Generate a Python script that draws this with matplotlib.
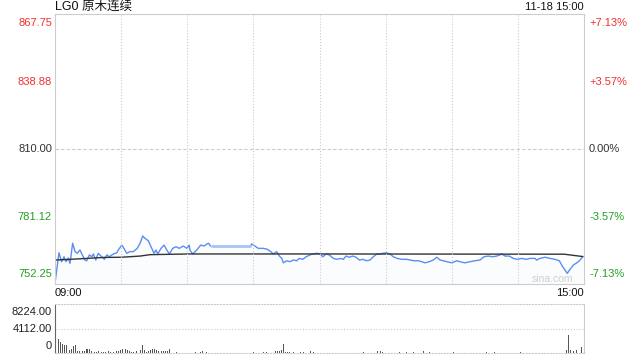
import matplotlib
matplotlib.use("Agg")
import matplotlib.pyplot as plt

plt.rcParams['font.family'] = ['Liberation Sans', 'Noto Sans CJK SC', 'DejaVu Sans']

# minutes since 09:00 (240 minute axis) and price
price_t = [0, 1.8, 3.0, 4.1, 5.0, 6.0, 6.8, 8.0, 9.1, 10.1, 11.3, 12.4, 13.5, 14.4, 15.6,
           16.7, 17.4, 18.5, 19.6, 21.2, 22.4, 23.5, 24.6, 26.5, 28.0, 28.7, 30.3, 31.3,
           32.5, 34.0, 35.5, 37.3, 38.6, 39.8, 40.8, 42.3, 43.9, 44.9, 45.8, 46.6, 48.1,
           49.5, 50.7, 51.9, 53.4, 54.9, 56.4, 58.2, 59.8, 60.9, 61.2, 62.5, 64.3, 66.1,
           67.6, 69.6, 70.6, 88.8, 89.2, 90.7, 92.2, 94.5, 96.3, 97.9, 99.0, 100.6, 101.8,
           102.9, 103.6, 105.1, 106.6, 108.1, 109.7, 110.8, 112.4, 113.9, 115.7, 117.2,
           118.7, 120.2, 121.5, 123.0, 124.4, 126.3, 127.8, 129.6, 130.8, 132.0, 133.5,
           135.1, 136.6, 138.1, 139.6, 141.4, 142.9, 144.4, 146.0, 147.4, 148.9, 150.2,
           152.0, 153.5, 155.3, 157.3, 159.6, 161.1, 162.9, 164.8, 166.4, 167.9, 169.8,
           171.6, 173.2, 174.7, 176.2, 177.7, 180.0, 182.3, 183.7, 186.0, 188.3, 190.5,
           192.8, 194.6, 196.6, 198.6, 200.4, 201.9, 202.7, 204.2, 206.1, 207.9, 209.7,
           211.7, 213.7, 215.5, 217.8, 218.5, 220.0, 222.3, 224.6, 226.8, 228.8, 230.3,
           231.4, 232.4, 233.7, 235.2, 236.7, 237.9, 239.4]
price = [752.6, 765.6, 761.8, 763.9, 761.8, 763.4, 761.1, 769.7, 766.1, 765.4, 766.8, 764.7,
         762.5, 762.2, 764.7, 763.9, 765.1, 762.5, 765.4, 763.9, 762.8, 764.7, 763.9, 765.1,
         765.6, 766.8, 768.9, 767.5, 765.4, 766.1, 766.1, 767.5, 769.7, 772.8, 771.8, 770.8,
         767.5, 765.4, 766.8, 765.1, 767.5, 768.9, 766.8, 765.1, 767.5, 768.2, 767.5, 768.5,
         767.5, 768.9, 766.8, 765.1, 766.8, 768.9, 768.5, 769.7, 768.5, 768.5, 769.4, 768.5,
         767.5, 767.5, 767.1, 766.1, 765.1, 766.1, 764.2, 763.2, 761.3, 762.2, 761.8, 762.5,
         762.2, 763.2, 762.8, 763.9, 764.7, 765.1, 765.4, 765.1, 763.9, 765.1, 764.7, 763.2,
         762.8, 763.2, 762.8, 764.2, 763.7, 764.2, 763.7, 762.5, 762.8, 762.2, 762.5, 763.9,
         765.1, 765.1, 765.4, 765.6, 765.1, 763.9, 763.2, 762.8, 762.8, 762.5, 762.2, 762.2,
         761.8, 761.3, 761.8, 762.5, 763.7, 762.5, 762.2, 761.8, 761.3, 762.2, 761.8, 761.3,
         761.8, 762.2, 762.5, 763.9, 764.2, 763.9, 764.2, 764.7, 765.1, 764.2, 764.2, 763.2,
         762.8, 763.2, 762.8, 763.2, 763.2, 762.5, 763.2, 763.7, 763.2, 762.8, 762.2, 759.7,
         758.2, 756.8, 758.6, 760.4, 761.3, 762.2, 763.9]

avg_t = [0, 6.8, 14.4, 21.9, 30.3, 38.6, 43.1, 60.9, 120.0, 231.0, 239.4]
avg = [762.5, 762.8, 763.2, 763.6, 763.7, 764.2, 764.8, 765.1, 765.1, 765.0, 764.0]

vol_t = [0.45, 1.5, 2.3, 3.2, 4.1, 5.0, 6.8, 7.6, 8.3, 9.1, 10.1, 11.3, 12.3, 13.2, 14.1,
         14.8, 15.6, 16.6, 17.7, 18.9, 19.8, 21.0, 21.9, 23.1, 24.2, 25.3, 26.5, 28.0, 28.9,
         29.8, 30.7, 31.8, 32.8, 33.7, 34.8, 35.8, 37.1, 38.9, 39.8, 40.7, 41.6, 42.5, 43.4,
         44.3, 45.2, 46.1, 47.0, 48.1, 49.1, 50.0, 51.1, 51.9, 52.9, 54.0, 55.2, 56.7, 63.7,
         65.8, 67.0, 68.8, 74.9, 80.9, 87.0, 90.0, 94.5, 96.0, 100.0, 100.9, 101.8, 102.7,
         103.6, 104.5, 105.4, 106.6, 108.1, 111.2, 112.7, 115.7, 117.2, 124.8, 129.3, 135.3,
         139.9, 146.2, 147.5, 148.4, 152.0, 156.5, 159.6, 162.6, 167.4, 170.1, 174.7, 180.7,
         186.8, 195.9, 199.6, 204.9, 211.0, 217.0, 223.1, 226.1, 232.1, 232.9, 233.9, 235.2,
         236.7, 239.0]
vol = [8224, 2350, 1900, 1510, 1340, 1340, 500, 620, 1170, 1290, 390, 340, 390, 340, 620,
       670, 620, 340, 220, 220, 340, 110, 220, 170, 280, 220, 110, 340, 390, 500, 620, 670,
       500, 280, 170, 220, 390, 500, 1340, 500, 170, 340, 450, 620, 620, 450, 280, 340, 280,
       280, 280, 670, 60, 60, 110, 60, 170, 170, 280, 110, 60, 60, 60, 110, 170, 170, 340,
       390, 280, 500, 1510, 220, 170, 170, 110, 170, 110, 340, 110, 60, 60, 60, 220, 390,
       280, 110, 60, 170, 110, 220, 340, 170, 60, 110, 60, 220, 110, 60, 170, 60, 60, 60,
       500, 3020, 500, 390, 500, 960]

left_ticks = ['867.75', '838.88', '810.00', '781.12', '752.25']
right_ticks = ['+7.13%', '+3.57%', '0.00%', '-3.57%', '-7.13%']
tick_colors = ['#f03030', '#f03030', '#333333', '#20a020', '#20a020']
vol_ticks = ['8224.00', '4112.00', '0']

lo, hi, base = 752.25, 867.75, 810.0
grid_c = '#cccccc'
line_c = '#5a8ef0'

fig = plt.figure(figsize=(6.4, 3.6), dpi=100)
ax = fig.add_axes([55/640, 1-284/360, 529/640, 270/360])
axv = fig.add_axes([55/640, 1-353/360, 529/640, 49/360])

# price panel
ax.fill_between(price_t, price, lo, color=line_c, alpha=0.025, lw=0)
i0, i1 = price_t.index(70.6), price_t.index(88.8)
ax.plot(price_t[:i0+1], price[:i0+1], color=line_c, lw=1)
ax.plot(price_t[i1:], price[i1:], color=line_c, lw=1)
# mid-morning pause drawn lighter
ax.plot(price_t[i0:i1+1], price[i0:i1+1], color='#a8c4f4', lw=2, solid_capstyle='butt')
ax.plot(avg_t, avg, color='#333333', lw=1)
ax.set_xlim(0, 240)
ax.set_ylim(lo, hi)
for x in range(30, 240, 30):
    ax.axvline(x, color=grid_c, ls=':', lw=0.8)
ax.axhline(base, color=grid_c, ls=(0, (3, 2)), lw=0.8)
ax.set_xticks([])
ax.set_yticks([])
for s in ax.spines.values():
    s.set_color(grid_c)

ylev = [hi - i*(hi-lo)/4 for i in range(5)]
for i, (y, lt, rt, c) in enumerate(zip(ylev, left_ticks, right_ticks, tick_colors)):
    va = 'top' if i == 0 else ('bottom' if i == 4 else 'center')
    dy = -4 if i == 0 else (5 if i == 4 else 0)
    ax.annotate(lt, (0, y), xycoords=('axes fraction', 'data'), xytext=(-3, dy),
                textcoords='offset pixels', ha='right', va=va, color=c, fontsize=8)
    ax.annotate(rt, (1, y), xycoords=('axes fraction', 'data'), xytext=(5, dy),
                textcoords='offset pixels', ha='left', va=va, color=c, fontsize=8)

fig.text(55/640, 1-7/360, 'LG0 原木连续', ha='left', va='center', fontsize=9, color='#111111')
fig.text(584/640, 1-7/360, '11-18 15:00', ha='right', va='center', fontsize=8, color='#111111')
fig.text(55/640, 1-293/360, '09:00', ha='left', va='center', fontsize=8, color='#111111')
fig.text(584/640, 1-293/360, '15:00', ha='right', va='center', fontsize=8, color='#111111')
fig.text(573/640, 1-279/360, 'sina.com', ha='right', va='center', fontsize=7.5, color='#cfcfcf')

# volume panel
axv.bar(vol_t, vol, width=0.45, color='#555555')
axv.set_xlim(0, 240)
axv.set_ylim(0, 8224)
axv.axhline(4112, color=grid_c, ls=':', lw=0.8)
axv.set_xticks([])
axv.set_yticks([])
axv.spines['top'].set_linestyle(':')
axv.spines['top'].set_color(grid_c)
axv.spines['bottom'].set_linestyle(':')
axv.spines['bottom'].set_color(grid_c)
axv.spines['right'].set_color(grid_c)
axv.spines['left'].set_color('#666666')
for y, t, va, dy in zip([8224, 4112, 0], vol_ticks, ['top', 'center', 'bottom'], [-3, 0, 2]):
    axv.annotate(t, (0, y), xycoords=('axes fraction', 'data'), xytext=(-3, dy),
                 textcoords='offset pixels', ha='right', va=va, color='#222222', fontsize=8)

fig.savefig('out.png', dpi=100)
